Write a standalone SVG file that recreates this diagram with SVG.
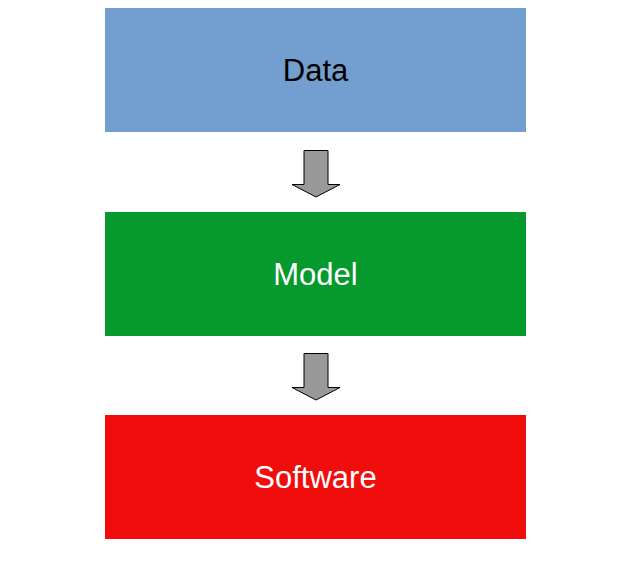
<svg xmlns="http://www.w3.org/2000/svg" width="622" height="565" viewBox="0 0 622 565">
<style>
.lbl{font-family:"Liberation Sans",Arial,sans-serif;font-size:31px;text-anchor:middle}
.arr{fill:#999999;stroke:#000000;stroke-width:1}
</style>
<rect width="622" height="565" fill="#ffffff"/>
<g id="data">
<rect x="105" y="8" width="421" height="124" fill="#729fcf"/>
<text class="lbl" x="315.5" y="81" fill="#000000">Data</text>
</g>
<g id="model">
<rect x="105" y="212" width="421" height="124" fill="#069a2e"/>
<text class="lbl" x="315.5" y="285" fill="#ffffff">Model</text>
</g>
<g id="software">
<rect x="105" y="415" width="421" height="124" fill="#f10d0c"/>
<text class="lbl" x="315.5" y="488" fill="#ffffff">Software</text>
</g>
<g id="connectors">
<path class="arr" d="M304,150.5 H328 V184.5 H340 L316,197 L292,184.5 H304 Z"/>
<path class="arr" d="M304,353.5 H328 V387.5 H340 L316,400 L292,387.5 H304 Z"/>
</g>
</svg>
